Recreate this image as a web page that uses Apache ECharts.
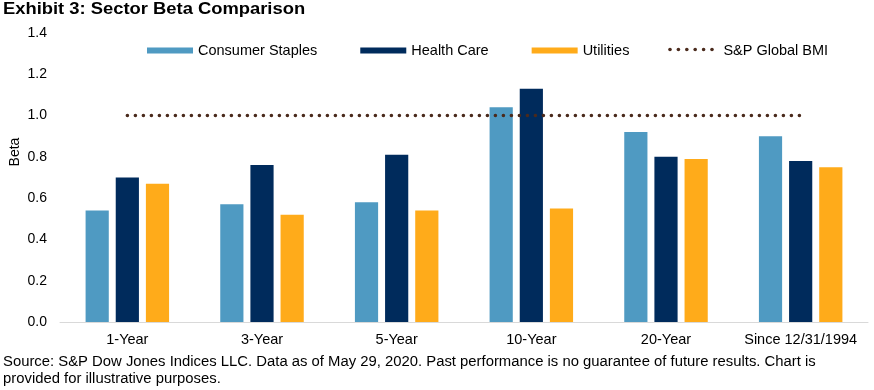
<!DOCTYPE html>
<html><head><meta charset="utf-8">
<script src="https://cdn.jsdelivr.net/npm/echarts@6/dist/echarts.min.js"></script>
<style>html,body{margin:0;padding:0;background:#fff}#c{width:874px;height:390px}</style>
</head><body><div id="c"></div>
<script>
const categories = ['1-Year', '3-Year', '5-Year', '10-Year', '20-Year', 'Since 12/31/1994'];
const consumerStaples = [0.54, 0.57, 0.58, 1.04, 0.92, 0.90];
const healthCare = [0.70, 0.76, 0.81, 1.13, 0.80, 0.78];
const utilities = [0.67, 0.52, 0.54, 0.55, 0.79, 0.75];
const globalBMI = [1.0, 1.0, 1.0, 1.0, 1.0, 1.0];
const yTicks = { min: 0, max: 1.4, interval: 0.2 };

const F = "'Liberation Sans', Arial, sans-serif";
const DOT = '#4A2A1C';
const chart = echarts.init(document.getElementById('c'), null, { renderer: 'canvas' });

// legend swatch dots for the dotted benchmark line (legend decoration only)
const legendDots = [];
for (let i = 0; i < 6; i++) {
  legendDots.push({ type: 'circle', shape: { cx: 670 + i * 8.4, cy: 49.5, r: 1.8 }, style: { fill: DOT }, z: 10 });
}

chart.setOption({
  backgroundColor: '#fff',
  animation: false,
  grid: { left: 60, right: 6, top: 33, bottom: 68 },
  legend: {
    left: 142, top: 38,
    itemWidth: 46, itemHeight: 6, itemGap: 43,
    textStyle: { fontFamily: F, fontSize: 14.5, color: '#000' },
    data: [
      { name: 'Consumer Staples', icon: 'rect' },
      { name: 'Health Care', icon: 'rect' },
      { name: 'Utilities', icon: 'rect' },
      { name: 'S&P Global BMI', icon: 'rect', itemStyle: { color: 'rgba(0,0,0,0)', opacity: 0 }, lineStyle: { opacity: 0 } }
    ]
  },
  xAxis: {
    type: 'category', data: categories,
    axisLine: { lineStyle: { color: '#D9D9D9', width: 1 } },
    axisTick: { show: false },
    axisLabel: { fontFamily: F, fontSize: 14.5, color: '#000', margin: 10, interval: 0 }
  },
  yAxis: {
    type: 'value', min: yTicks.min, max: yTicks.max, interval: yTicks.interval,
    splitLine: { show: false },
    axisLine: { show: false }, axisTick: { show: false },
    axisLabel: { fontFamily: F, fontSize: 14, color: '#000', margin: 13, formatter: v => v.toFixed(1) }
  },
  graphic: [
    { type: 'text', x: 3, y: 10, scaleX: 1.148, style: { text: 'Exhibit 3: Sector Beta Comparison', font: "bold 16px 'Liberation Sans', Arial, sans-serif", fill: '#000', verticalAlign: 'middle' } },
    { type: 'text', x: 15, y: 152, rotation: Math.PI / 2, style: { text: 'Beta', font: "14px 'Liberation Sans', Arial, sans-serif", fill: '#000', align: 'center', verticalAlign: 'middle' } },
    { type: 'text', x: 3, y: 353, style: { text: 'Source: S&P Dow Jones Indices LLC. Data as of May 29, 2020. Past performance is no guarantee of future results. Chart is\nprovided for illustrative purposes.', font: "14.85px 'Liberation Sans', Arial, sans-serif", lineHeight: 17, fill: '#000' } }
  ].concat(legendDots),
  series: [
    { name: 'Consumer Staples', type: 'bar', data: consumerStaples, barGap: '30%', barCategoryGap: '38%', itemStyle: { color: '#4F9AC2' } },
    { name: 'Health Care', type: 'bar', data: healthCare, itemStyle: { color: '#002B5C' } },
    { name: 'Utilities', type: 'bar', data: utilities, itemStyle: { color: '#FFAB1A' } },
    { name: 'S&P Global BMI', type: 'line', data: globalBMI, symbol: 'none', z: 5,
      itemStyle: { color: DOT },
      lineStyle: { color: DOT, width: 3.5, type: [0.1, 7.9], cap: 'round' } }
  ]
});
</script></body></html>
